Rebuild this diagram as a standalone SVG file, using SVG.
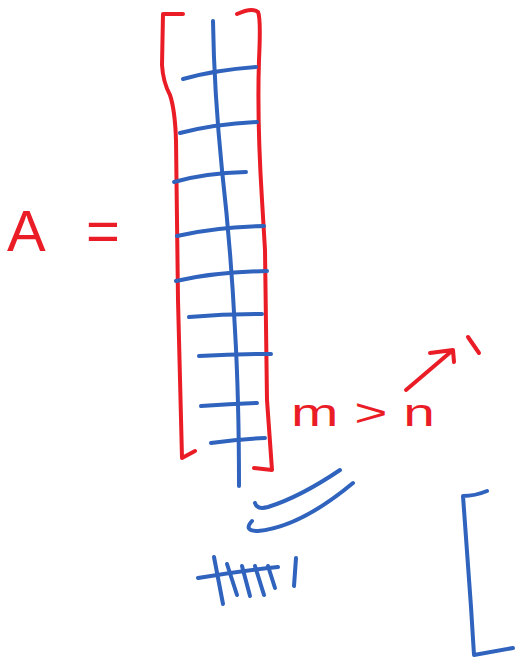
<svg xmlns="http://www.w3.org/2000/svg" width="515" height="662" viewBox="0 0 515 662">
  <style>
    .r { fill: none; stroke: #ea1d27; stroke-width: 4; stroke-linecap: round; stroke-linejoin: round; }
    .b { fill: none; stroke: #2f63bd; stroke-width: 4; stroke-linecap: round; stroke-linejoin: round; }
    .rt { fill: #ea1d27; font-family: "Liberation Sans", Arial, sans-serif; }
  </style>
  <rect width="515" height="662" fill="#ffffff"/>

  <g id="matrix-bracket">
    <path class="r" d="M183,14 L163,14 L162,65 Q163,82 170,95 Q175,110 176,140 L178,300 L182,458 L195,451"/>
    <path class="r" d="M237,14 Q252,7 258,12 Q261,18 259,60 Q257,120 262,200 L265,250 L267,400 L272,470 L254,468"/>
  </g>

  <g id="matrix-grid">
    <path class="b" d="M213,21 Q214,90 222,170 Q231,250 235,330 Q239,400 239,486"/>
    <path class="b" d="M183,79 Q215,70 256,67"/>
    <path class="b" d="M180,133 Q215,124 257,122"/>
    <path class="b" d="M174,182 Q205,173 246,172"/>
    <path class="b" d="M177,236 Q215,227 264,226"/>
    <path class="b" d="M176,281 Q215,272 267,271"/>
    <path class="b" d="M189,317 Q225,314 262,314"/>
    <path class="b" d="M199,356 Q235,354 271,354"/>
    <path class="b" d="M201,406 Q230,404 257,403"/>
    <path class="b" d="M211,443 Q240,439 265,438"/>
  </g>

  <g id="label-A">
    <text class="rt" x="7" y="251" font-size="58">A<tspan x="86">=</tspan></text>
  </g>

  <g id="label-mn">
    <text class="rt" x="291" y="426" font-size="38" textLength="144" lengthAdjust="spacingAndGlyphs">m &gt; n</text>
    <path class="r" d="M406,390 L453,350 M430,353 L453,350 L454,362"/>
    <path class="r" d="M468,337 L479,353"/>
  </g>

  <g id="strokes">
    <path class="b" d="M255,503 Q257,510 268,507 Q300,497 340,470"/>
    <path class="b" d="M252,521 Q243,531 258,531 Q300,527 353,483"/>
  </g>

  <g id="tally">
    <path class="b" d="M198,578 Q240,571 278,567"/>
    <path class="b" d="M214,557 L223,604"/>
    <path class="b" d="M227,564 L237,595"/>
    <path class="b" d="M242,566 L250,596"/>
    <path class="b" d="M255,566 L264,595"/>
    <path class="b" d="M268,566 L275,588"/>
    <path class="b" d="M296,558 L294,586"/>
  </g>

  <g id="right-bracket">
    <path class="b" d="M487,491 Q475,496 463,496 L471,607 L474,655 L513,648"/>
  </g>
</svg>
